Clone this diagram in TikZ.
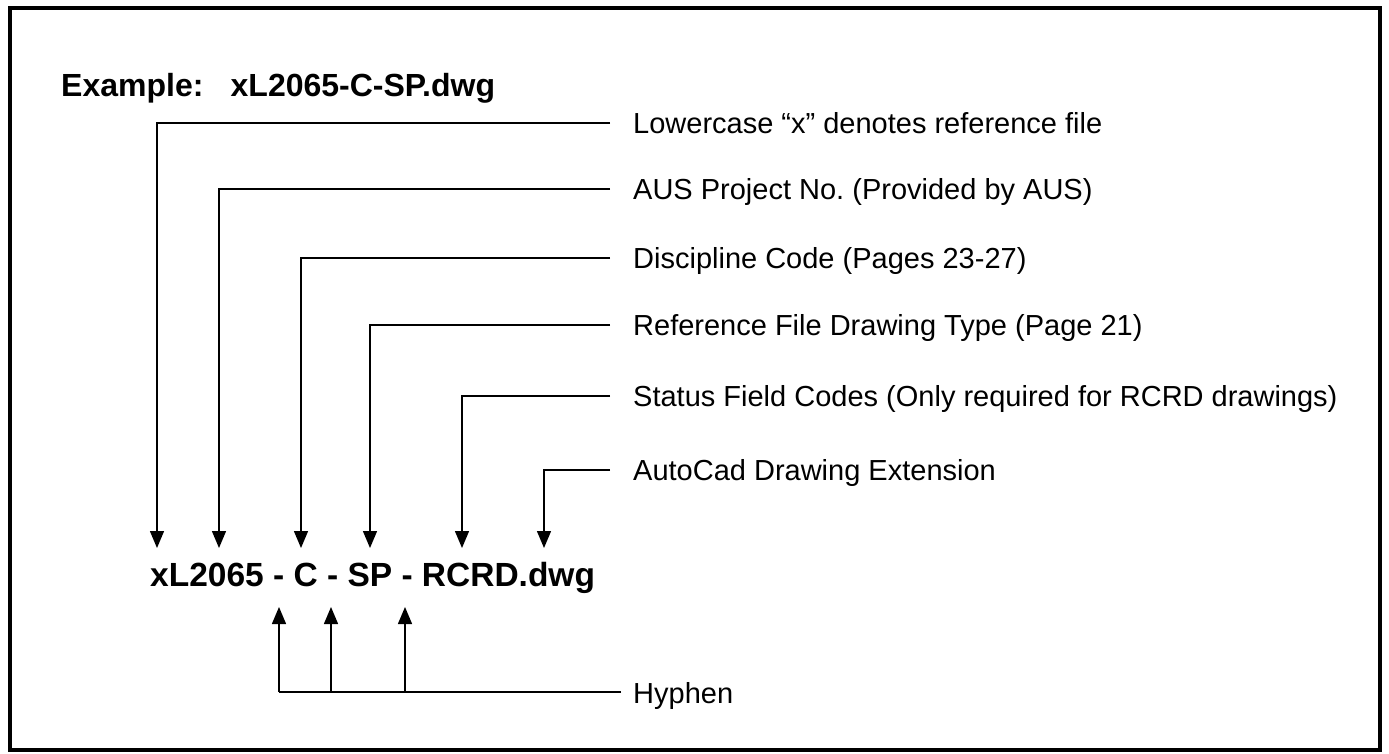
\documentclass[tikz,border=0pt]{standalone}
\usepackage{fontspec}
\setmainfont{Liberation Sans}
\usetikzlibrary{arrows.meta}
\frenchspacing
\begin{document}
\begin{tikzpicture}[x=1pt,y=-1pt,
  lead/.style={line width=1.4pt,-{Triangle[length=17pt,width=14pt]}},
  plain/.style={line width=1.4pt},
  lbl/.style={anchor=base west,inner sep=0pt,font=\fontsize{29}{33}\selectfont},
  big/.style={anchor=base west,inner sep=0pt,font=\fontsize{32}{38}\selectfont\bfseries},
  fname/.style={anchor=base west,inner sep=0pt,font=\fontsize{33.5}{38}\selectfont\bfseries}]
\useasboundingbox (0,0) rectangle (1389,753);
\draw[line width=4pt] (10,8) rectangle (1380,750);
\node[big] (ex) at (61,96) {Example:\hspace{0.85em}xL2065-C-SP.dwg};
\node[fname] (fn) at (150,586) {xL2065 - C - SP - RCRD.dwg};
% labels
\node[lbl] (l1) at (633,133) {Lowercase “x” denotes reference file};
\node[lbl] (l2) at (633,199) {AUS Project No. (Provided by AUS)};
\node[lbl] (l3) at (633,268) {Discipline Code (Pages 23-27)};
\node[lbl] (l4) at (633,335) {Reference File Drawing Type (Page 21)};
\node[lbl] (l5) at (633,406) {Status Field Codes (Only required for RCRD drawings)};
\node[lbl] (l6) at (633,480) {AutoCad Drawing Extension};
\node[lbl] (l7) at (633,703) {Hyphen};
% line ends
\coordinate (e1) at (610,123); \coordinate (c1) at (157,123); \coordinate (t1) at (157,548);
\coordinate (e2) at (610,189); \coordinate (c2) at (219,189); \coordinate (t2) at (219,548);
\coordinate (e3) at (610,258); \coordinate (c3) at (301,258); \coordinate (t3) at (301,548);
\coordinate (e4) at (610,325); \coordinate (c4) at (370,325); \coordinate (t4) at (370,548);
\coordinate (e5) at (610,396); \coordinate (c5) at (462,396); \coordinate (t5) at (462,548);
\coordinate (e6) at (610,470); \coordinate (c6) at (544,470); \coordinate (t6) at (544,548);
\foreach \i in {1,...,6}{\draw[lead] (e\i) -- (c\i) -- (t\i);}
% hyphen
\coordinate (h0) at (621,692);
\coordinate (hA) at (279,692); \coordinate (hB) at (331,692); \coordinate (hC) at (405,692);
\coordinate (tA) at (279,607); \coordinate (tB) at (331,607); \coordinate (tC) at (405,607);
\draw[plain] (h0) -- (hA);
\draw[lead] (hA) -- (tA);
\draw[lead] (hB) -- (tB);
\draw[lead] (hC) -- (tC);
\end{tikzpicture}
\end{document}
